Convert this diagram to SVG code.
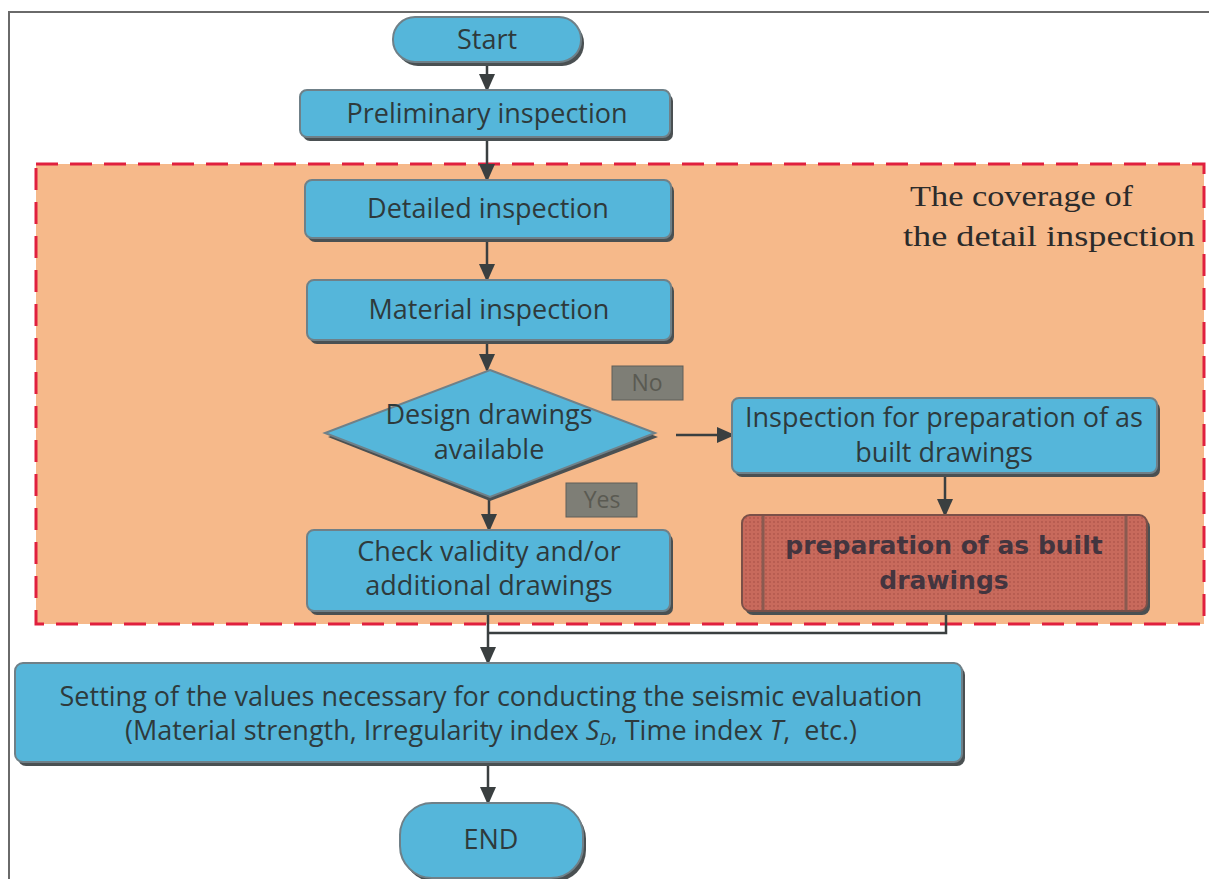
<svg xmlns="http://www.w3.org/2000/svg" width="1209" height="879" viewBox="0 0 1209 879">
<defs>
<style>
.box{fill:#55b6da;stroke:#6f8088;stroke-width:2}
.sh{fill:#4a5052}
.t{font-family:"Open Sans","DejaVu Sans",sans-serif;font-size:27px;fill:#2e3a3c;text-anchor:middle}
.c{stroke:#3a3f40;stroke-width:2.5;fill:none}
.tag{fill:#7e7e76;stroke:#5e5e58;stroke-width:1}
.tagt{font-family:"Open Sans","DejaVu Sans",sans-serif;font-size:23px;fill:#5a5a52;text-anchor:middle}
.pt{font-family:"DejaVu Sans",sans-serif;font-weight:bold;font-size:25px;fill:#43353f;text-anchor:middle}
.st{font-family:"Liberation Serif",serif;font-size:30px;fill:#2b2b2b}
</style>
<marker id="ahb" markerWidth="18" markerHeight="16" refX="16" refY="8" orient="auto" markerUnits="userSpaceOnUse" viewBox="0 0 18 16">
<path d="M0,0 L18,8 L0,16 z" fill="#3a3f40"/>
</marker>
<pattern id="dots" width="4" height="4" patternUnits="userSpaceOnUse">
<rect width="4" height="4" fill="#c86a5c"/>
<circle cx="2" cy="2" r="0.9" fill="#b0574c"/>
</pattern>
</defs>
<rect width="1209" height="879" fill="#ffffff"/>
<path d="M9,879 V12 H1209" stroke="#6a6a6a" stroke-width="2" fill="none"/>
<g id="region">
<rect x="36" y="164" width="1168" height="460" fill="#f6b98a" stroke="#e0203e" stroke-width="3" stroke-dasharray="22,12"/>
<text class="st" x="910" y="206" textLength="223" lengthAdjust="spacingAndGlyphs">The coverage of</text>
<text class="st" x="903" y="246" textLength="292" lengthAdjust="spacingAndGlyphs">the detail inspection</text>
</g>
<g id="connectors">
<path class="c" d="M487,62 V90" marker-end="url(#ahb)"/>
<path class="c" d="M487,138 V180" marker-end="url(#ahb)"/>
<path class="c" d="M487,239 V280" marker-end="url(#ahb)"/>
<path class="c" d="M487,341 V370" marker-end="url(#ahb)"/>
<path class="c" d="M489,497 V530" marker-end="url(#ahb)"/>
<path class="c" d="M676,435 H733" marker-end="url(#ahb)"/>
<path class="c" d="M945,474 V515" marker-end="url(#ahb)"/>
<path class="c" d="M488,612 V663" marker-end="url(#ahb)"/>
<path class="c" d="M946,612 V633 H488"/>
<path class="c" d="M488,763 V803" marker-end="url(#ahb)"/>
</g>
<g id="start">
<rect class="sh" x="396" y="21" width="188" height="45" rx="22"/>
<rect class="box" x="393" y="17" width="188" height="45" rx="22"/>
<text class="t" x="487" y="49">Start</text>
</g>
<g id="preliminary">
<rect class="sh" x="303" y="94" width="370" height="47" rx="7"/>
<rect class="box" x="300" y="90" width="370" height="47" rx="7"/>
<text class="t" x="487" y="123">Preliminary inspection</text>
</g>
<g id="detailed">
<rect class="sh" x="308" y="184" width="366" height="58" rx="7"/>
<rect class="box" x="305" y="180" width="366" height="58" rx="7"/>
<text class="t" x="488" y="218">Detailed inspection</text>
</g>
<g id="material">
<rect class="sh" x="310" y="284" width="364" height="60" rx="7"/>
<rect class="box" x="307" y="280" width="364" height="60" rx="7"/>
<text class="t" x="489" y="319">Material inspection</text>
</g>
<g id="decision">
<path class="sh" d="M490,373 L658,437 L490,501 L328,437 z"/>
<path class="box" d="M490,370 L655,433 L490,497 L325,433 z"/>
<text class="t" x="489" y="424">Design drawings</text>
<text class="t" x="489" y="459">available</text>
</g>
<g id="no-label">
<rect class="tag" x="612" y="366" width="71" height="34"/>
<text class="tagt" x="647" y="391">No</text>
</g>
<g id="yes-label">
<rect class="tag" x="566" y="483" width="71" height="34"/>
<text class="tagt" x="602" y="508">Yes</text>
</g>
<g id="inspection-asbuilt">
<rect class="sh" x="735" y="402" width="425" height="75" rx="7"/>
<rect class="box" x="732" y="398" width="425" height="75" rx="7"/>
<text class="t" x="944" y="427">Inspection for preparation of as</text>
<text class="t" x="944" y="462">built drawings</text>
</g>
<g id="preparation">
<rect class="sh" x="745" y="519" width="405" height="96" rx="8"/>
<rect x="742" y="515" width="405" height="96" rx="8" fill="url(#dots)" stroke="#7a5048" stroke-width="2"/>
<line x1="763" y1="516" x2="763" y2="610" stroke="#8a5a50" stroke-width="3"/>
<line x1="1126" y1="516" x2="1126" y2="610" stroke="#8a5a50" stroke-width="3"/>
<text class="pt" x="944" y="554">preparation of as built</text>
<text class="pt" x="944" y="589">drawings</text>
</g>
<g id="check">
<rect class="sh" x="310" y="534" width="363" height="81" rx="7"/>
<rect class="box" x="307" y="530" width="363" height="81" rx="7"/>
<text class="t" x="489" y="561">Check validity and/or</text>
<text class="t" x="489" y="595">additional drawings</text>
</g>
<g id="setting">
<rect class="sh" x="18" y="667" width="947" height="99" rx="8"/>
<rect class="box" x="15" y="663" width="947" height="99" rx="8"/>
<text class="t" x="491" y="706">Setting of the values necessary for conducting the seismic evaluation</text>
<text class="t" x="491" y="740" xml:space="preserve">(Material strength, Irregularity index <tspan font-style="italic">S</tspan><tspan font-style="italic" font-size="17" dy="5">D</tspan><tspan dy="-5">, Time index </tspan><tspan font-style="italic">T</tspan>,  etc.)</text>
</g>
<g id="end">
<rect class="sh" x="403" y="807" width="183" height="75" rx="32"/>
<rect class="box" x="400" y="803" width="183" height="75" rx="32"/>
<text class="t" x="491" y="849">END</text>
</g>
</svg>
